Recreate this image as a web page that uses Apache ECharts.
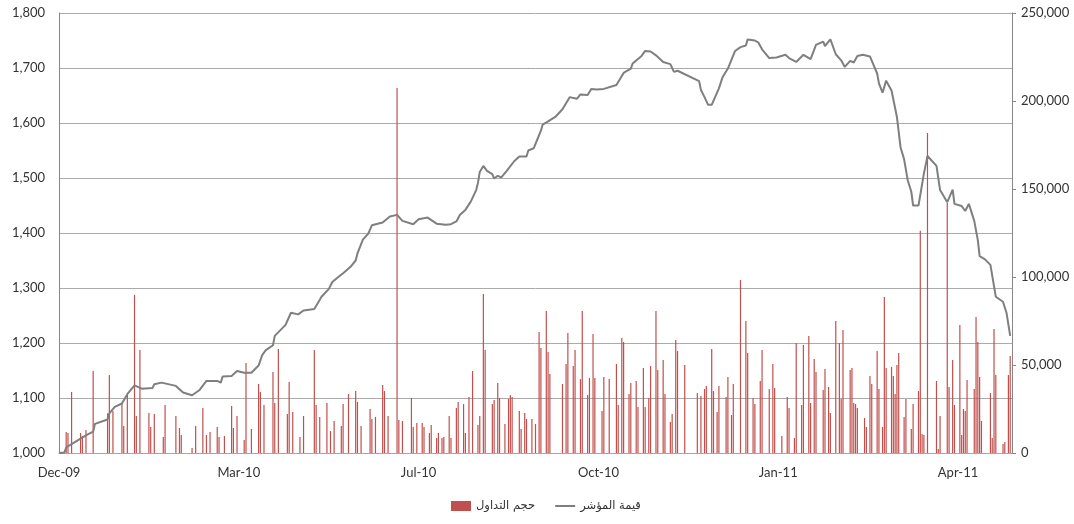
<!DOCTYPE html>
<html>
<head>
<meta charset="utf-8">
<script src="https://cdn.jsdelivr.net/npm/echarts@6/dist/echarts.min.js"></script>
<style>html,body{margin:0;padding:0;background:#fff}#c{width:1074px;height:524px}</style>
</head>
<body>
<div id="c"></div>
<script>
// x axis: day offsets from the first date; tick labels every 100 days
const xLabels = ['Dec-09','Mar-10','Jul-10','Oct-10','Jan-11','Apr-11'];
const seriesNames = ['حجم التداول','قيمة المؤشر'];

// trading volume (right axis)
const barDay = [
  4,5,7,12,13,15,19,27,28,30,
  35,36,38,42,43,45,50,51,53,58,
  59,65,67,68,74,76,80,82,84,88,
  89,92,96,97,99,103,104,107,111,112,
  114,119,120,122,127,128,130,134,136,142,
  143,145,149,151,153,157,158,161,165,166,
  168,173,174,176,180,181,183,188,189,191,
  196,197,199,202,203,206,207,210,211,213,
  214,217,218,221,222,225,226,228,230,233,
  234,236,237,241,242,244,245,248,250,251,
  252,256,257,259,260,263,265,267,268,271,
  272,273,280,282,283,286,287,290,291,294,
  295,297,298,302,303,306,310,311,313,314,
  317,318,321,322,325,326,328,329,332,333,
  336,337,340,341,343,344,348,355,357,359,
  360,363,364,366,367,371,372,374,375,379,
  382,383,386,387,390,391,395,397,398,402,
  405,406,409,410,413,414,417,418,420,421,
  425,426,428,429,432,434,435,436,440,441,
  442,443,444,448,449,451,452,455,456,458,
  459,460,463,464,465,466,467,470,471,474,
  475,478,479,480,481,483,488,489,490,494,
  495,497,498,501,502,503,504,505,509,510,
  511,512,513,518,519,520,521,525,526,528,
  529
];
const barVol = [
  11900,11400,34700,11400,9700,13100,46600,22500,44300,23900,
  28200,15300,33000,89800,21000,58500,22700,14800,22200,9100,
  27300,21000,14200,10200,2800,15300,25600,10200,11900,14800,
  9100,9700,26700,14200,21000,7400,51100,13600,39200,34700,
  27300,46000,28400,59100,22200,40300,23300,9100,21000,58500,
  27300,20500,28400,12500,18200,15300,27800,33500,35200,29000,
  15300,25000,19300,20500,38600,35200,21000,207400,18800,18200,
  31300,14800,17000,17000,14800,11400,15900,8500,11400,8500,
  9100,21000,8500,25600,29000,27800,11400,31800,46600,15900,
  21000,90300,58500,27800,30100,39800,31300,16500,30700,33000,
  31800,23900,13600,22700,19300,19300,16500,68800,59700,80700,
  57400,44900,39200,50600,68200,49400,58500,42000,80700,33000,
  42600,67600,42600,23900,43200,42000,50600,27300,65300,63100,
  33500,39800,40900,26100,48300,26100,31300,49400,80700,47200,
  52800,33500,17600,22200,64200,58000,50000,34100,32400,36400,
  38100,59100,35200,23300,38100,31800,43200,21600,39200,98300,
  75000,56800,31300,27800,40900,58500,36400,50600,36900,9700,
  31800,25600,8500,62500,27300,61400,66500,28400,53400,46000,
  35800,47700,37500,22700,75000,62500,30700,69900,47200,48300,
  28400,27800,25600,19900,14800,43800,39200,58000,36400,14800,
  88600,48300,48900,43800,33500,50000,56800,20500,30700,13600,
  27800,35200,126300,10800,10200,181800,40900,2300,21000,142000,
  37500,52800,27300,72700,10200,25000,23900,41500,36400,77300,
  63100,43200,18200,34100,8500,70500,44300,5100,6300,44300,
  55100
];

// index value (left axis)
const lineDay = [
  0,3,4,7,12,16,19,20,27,28,31,35,38,42,46,52,53,57,65,69,
  74,78,82,88,90,91,96,99,103,107,111,113,115,119,120,126,129,133,136,142,
  146,150,152,155,158,162,165,166,169,172,174,180,184,188,191,197,200,205,210,215,
  218,221,223,226,229,232,233,234,236,238,241,242,244,246,249,253,256,260,261,264,
  266,268,269,272,273,276,280,284,288,290,294,296,299,303,304,310,314,318,319,324,
  326,329,332,336,337,340,342,344,356,357,359,361,363,367,369,372,376,379,382,383,
  387,389,391,395,399,404,406,410,414,418,421,425,426,429,432,435,437,440,442,444,
  447,451,455,456,458,460,463,466,468,470,472,474,475,478,481,483,488,490,494,497,
  498,502,504,506,509,511,512,515,518,521,525,527,529
];
const lineVal = [
  1000,1001,1010,1016,1026,1034,1039,1053,1061,1072,1084,1090,1107,1123,1117,1118,1125,1128,1122,1110,
  1105,1114,1131,1131,1128,1139,1140,1149,1146,1146,1159,1178,1187,1196,1213,1233,1255,1252,1259,1262,
  1284,1298,1311,1319,1327,1338,1350,1363,1388,1399,1414,1419,1430,1433,1422,1416,1425,1428,1417,1415,
  1416,1421,1433,1442,1457,1478,1491,1511,1522,1513,1507,1499,1504,1501,1513,1530,1539,1539,1550,1554,
  1570,1586,1597,1603,1602,1611,1625,1647,1644,1652,1651,1662,1661,1662,1661,1669,1691,1699,1708,1722,
  1731,1730,1723,1711,1713,1707,1693,1695,1676,1660,1647,1633,1633,1663,1683,1699,1731,1738,1741,1752,
  1750,1746,1734,1718,1719,1724,1718,1711,1724,1716,1742,1748,1740,1752,1725,1714,1702,1713,1710,1722,
  1724,1721,1690,1672,1655,1677,1659,1611,1556,1534,1496,1475,1450,1450,1508,1540,1522,1478,1456,1479,
  1453,1449,1440,1453,1422,1387,1358,1352,1342,1284,1275,1254,1213
];

const barData = barDay.map((d, i) => [d, barVol[i]]);
const lineData = lineDay.map((d, i) => [d, lineVal[i]]);
const fmt = v => Number(v).toLocaleString('en-US');

const chart = echarts.init(document.getElementById('c'), null, {renderer: 'canvas'});
chart.setOption({
  animation: false,
  backgroundColor: '#ffffff',
  textStyle: {fontFamily: 'Lato, "DejaVu Sans", sans-serif'},
  grid: {left: 59, right: 62, top: 13, bottom: 71},
  legend: {
    left: 451, top: 500, padding: 0,
    itemWidth: 20, itemHeight: 10, itemGap: 19,
    textStyle: {fontSize: 11.5, color: '#333', fontFamily: '"DejaVu Sans", sans-serif'},
    data: [
      {name: seriesNames[0], icon: 'rect'},
      {name: seriesNames[1], itemStyle: {opacity: 0}}
    ]
  },
  xAxis: {
    type: 'value', min: 0, max: 530, interval: 100,
    axisLine: {show: true, lineStyle: {color: '#A6A6A6', width: 1}},
    axisTick: {show: false},
    splitLine: {show: false},
    axisLabel: {
      showMaxLabel: false, margin: 13, fontSize: 13, color: '#333',
      formatter: v => xLabels[Math.round(v / 100)] || ''
    }
  },
  yAxis: [
    {
      type: 'value', position: 'left', min: 1000, max: 1800, interval: 100,
      axisLine: {show: true, lineStyle: {color: '#868686'}},
      axisTick: {show: false},
      splitLine: {show: true, lineStyle: {color: '#ABABAB', width: 1}},
      axisLabel: {margin: 14, fontSize: 13, color: '#333', formatter: fmt}
    },
    {
      type: 'value', position: 'right', min: 0, max: 250000, interval: 50000,
      axisLine: {show: true, lineStyle: {color: '#868686'}},
      axisTick: {show: true, inside: false, length: 4, lineStyle: {color: '#868686'}},
      splitLine: {show: false},
      axisLabel: {margin: 9, fontSize: 13, color: '#333', formatter: fmt}
    }
  ],
  series: [
    {
      name: seriesNames[0], type: 'bar', xAxisIndex: 0, yAxisIndex: 1,
      data: barData, barWidth: 1.2,
      itemStyle: {color: '#C0504D'}, z: 2
    },
    {
      name: seriesNames[1], type: 'line', xAxisIndex: 0, yAxisIndex: 0,
      data: lineData, symbol: 'none', showSymbol: false,
      lineStyle: {color: '#7F7F7F', width: 2}, itemStyle: {color: '#7F7F7F'}, z: 3
    }
  ]
});
</script>
</body>
</html>
